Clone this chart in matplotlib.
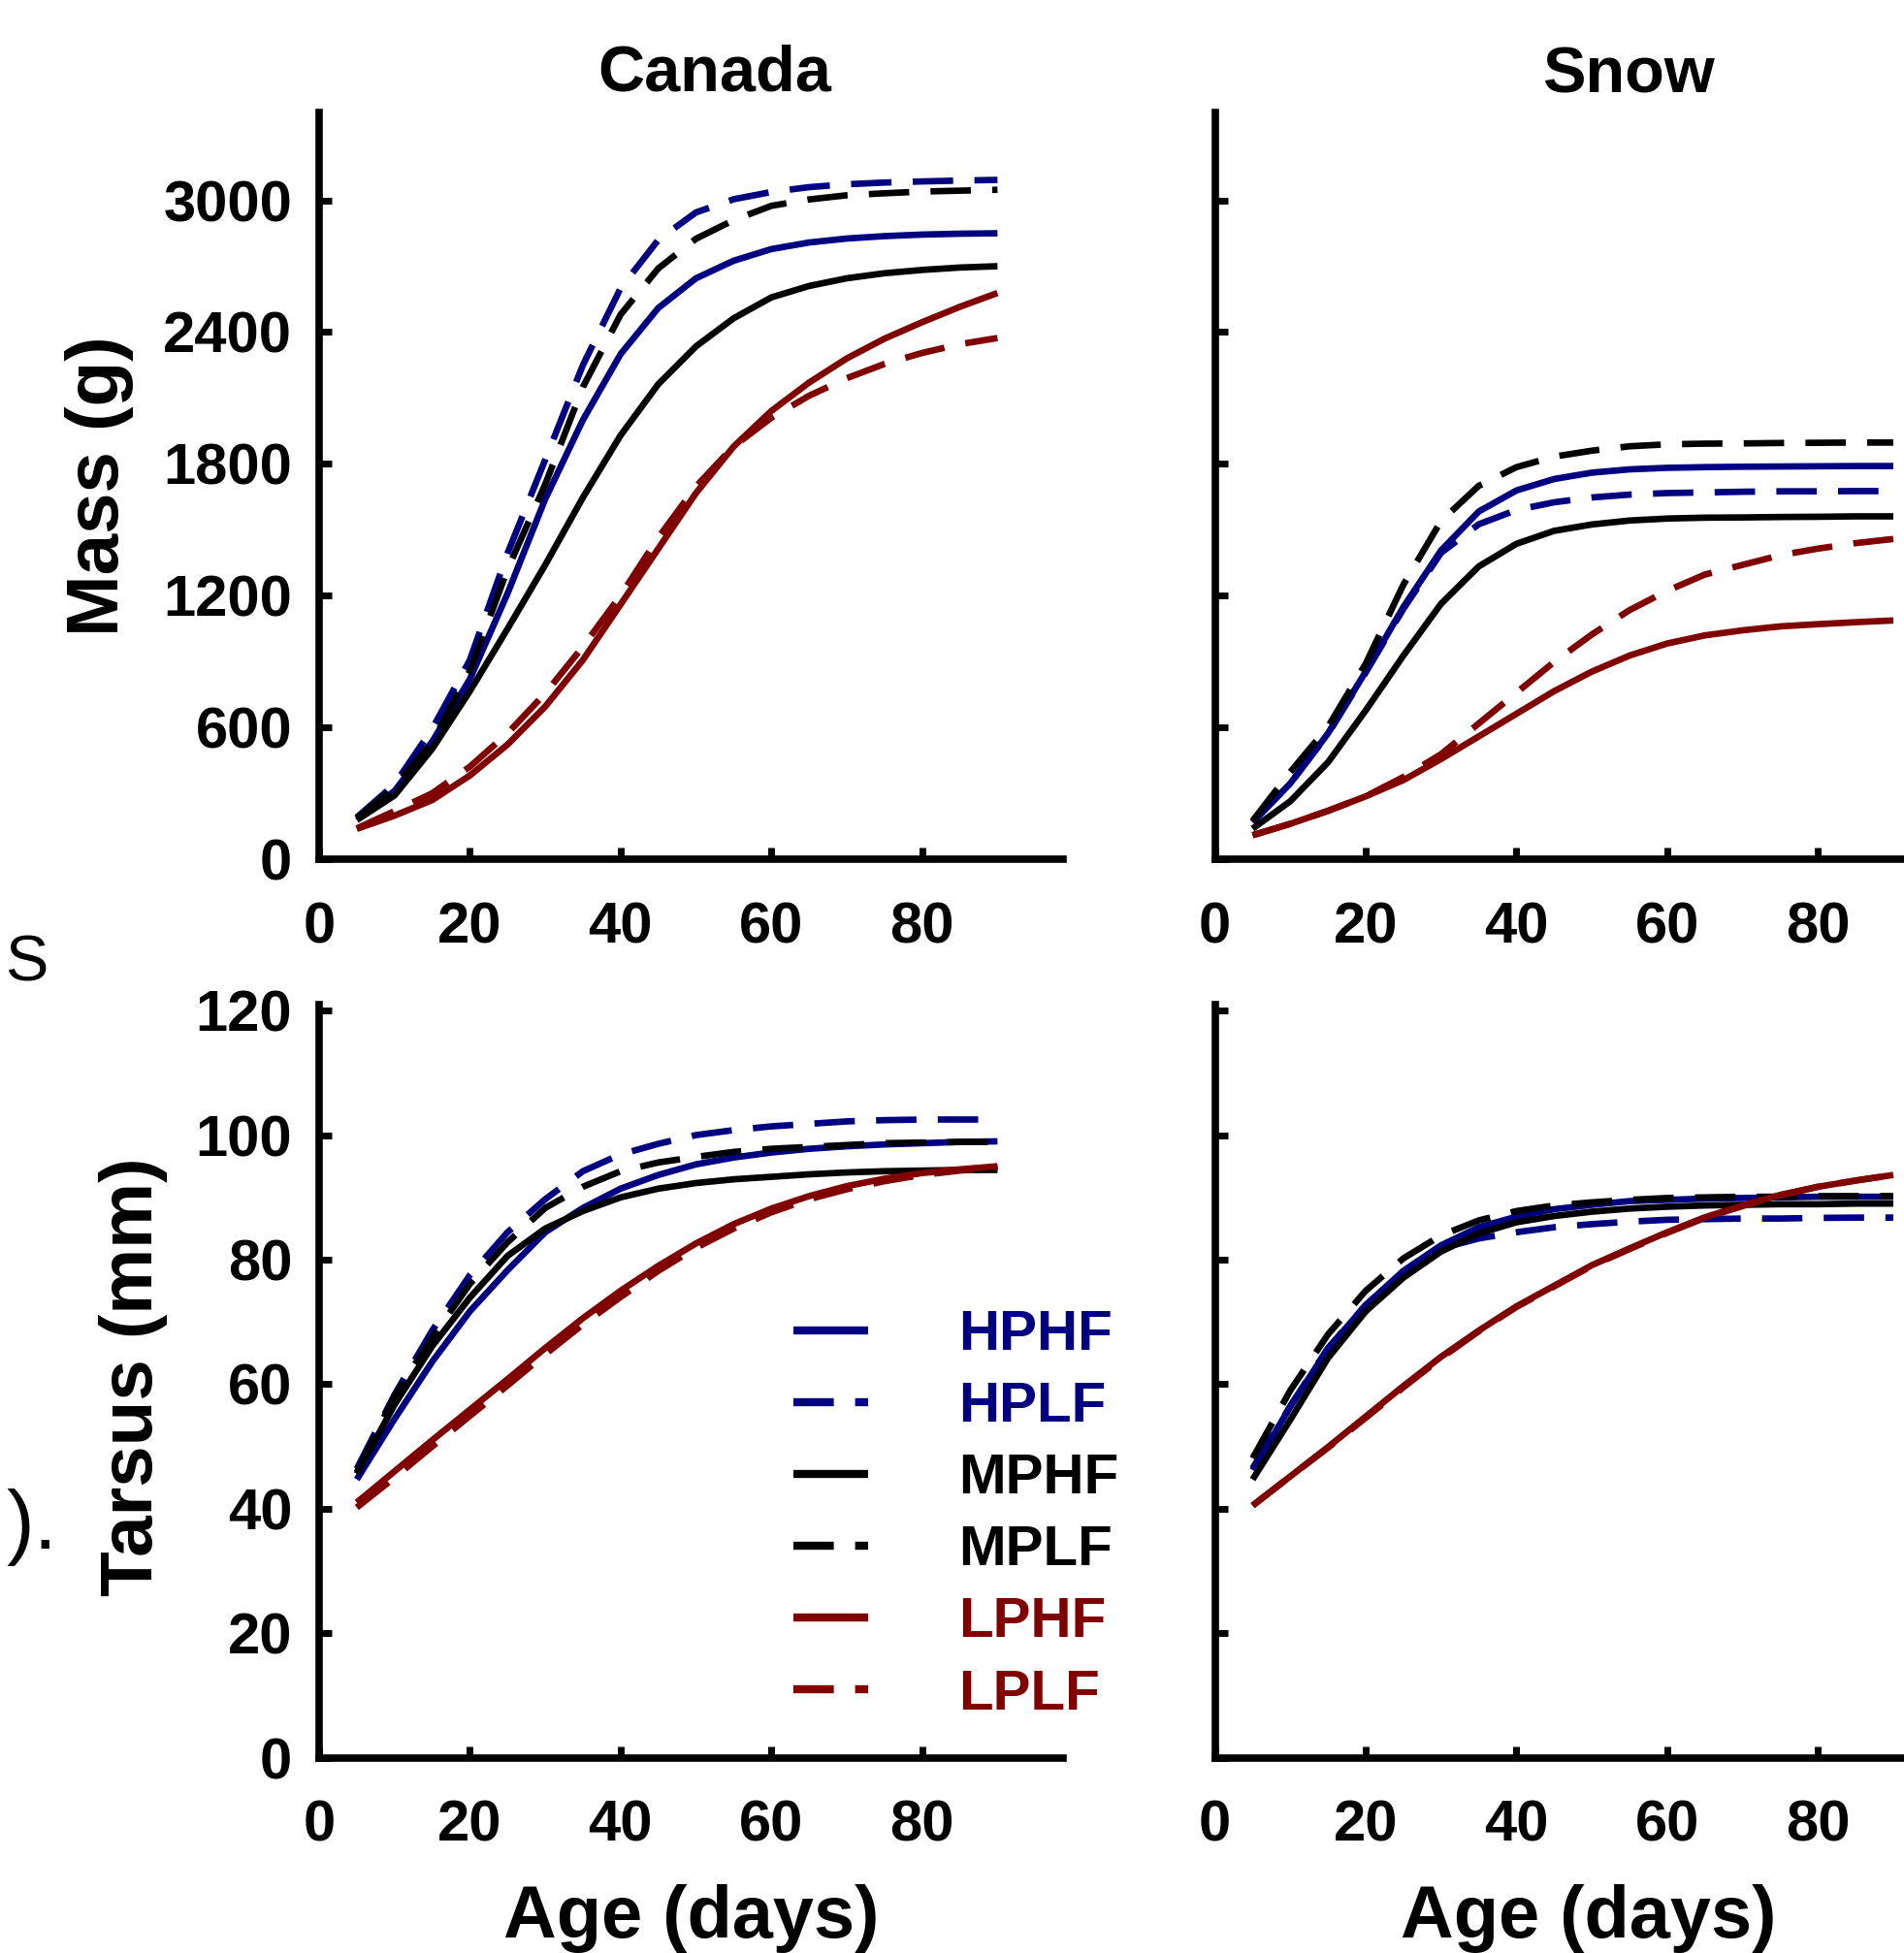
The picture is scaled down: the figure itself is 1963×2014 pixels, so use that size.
"""Growth curves (mass and tarsus) for Canada and Snow geese under six treatments."""

import matplotlib
matplotlib.use("Agg")
import matplotlib.pyplot as plt

plt.rcParams["font.family"] = ["Liberation Sans", "DejaVu Sans"]
plt.rcParams["font.weight"] = "bold"

# --- data (age in days) ---
days = [5, 10, 15, 20, 25, 30, 35, 40, 45, 50, 55, 60, 65, 70, 75, 80, 85, 90]

# Canada, mass (g)
canada_mass_hphf = [188, 310, 535, 820, 1210, 1640, 2000, 2300, 2510, 2645, 2725, 2778, 2808, 2826, 2837, 2844, 2848, 2850]
canada_mass_hplf = [190, 340, 593, 907, 1393, 1819, 2250, 2600, 2820, 2945, 3005, 3038, 3060, 3073, 3081, 3086, 3090, 3093]
canada_mass_mphf = [178, 290, 502, 765, 1049, 1340, 1647, 1930, 2163, 2335, 2463, 2558, 2610, 2645, 2668, 2683, 2694, 2700]
canada_mass_mplf = [186, 330, 533, 857, 1320, 1707, 2150, 2480, 2690, 2825, 2910, 2975, 3004, 3023, 3032, 3040, 3044, 3048]
canada_mass_lphf = [138, 198, 269, 381, 522, 695, 907, 1160, 1414, 1667, 1879, 2041, 2170, 2280, 2370, 2445, 2515, 2578]
canada_mass_lplf = [140, 219, 300, 421, 573, 755, 968, 1201, 1464, 1697, 1880, 2010, 2110, 2190, 2255, 2305, 2345, 2373]

# Snow, mass (g)
snow_mass_hphf = [168, 345, 573, 854, 1148, 1406, 1583, 1679, 1731, 1760, 1775, 1782, 1785, 1787, 1788, 1789, 1790, 1790]
snow_mass_hplf = [168, 345, 570, 850, 1140, 1395, 1525, 1590, 1625, 1647, 1660, 1667, 1670, 1673, 1675, 1675, 1676, 1676]
snow_mass_mphf = [139, 264, 441, 677, 927, 1163, 1333, 1436, 1495, 1524, 1542, 1551, 1555, 1556, 1558, 1559, 1561, 1561]
snow_mass_mplf = [175, 397, 603, 890, 1250, 1540, 1700, 1785, 1833, 1860, 1880, 1889, 1892, 1893, 1895, 1896, 1897, 1897]
snow_mass_lphf = [109, 161, 220, 286, 360, 456, 559, 662, 765, 854, 927, 982, 1019, 1042, 1060, 1070, 1079, 1087]
snow_mass_lplf = [109, 161, 220, 286, 374, 478, 618, 758, 898, 1023, 1134, 1222, 1296, 1340, 1384, 1414, 1439, 1458]

# Canada, tarsus (mm)
canada_tars_hphf = [44.7, 54.4, 63.6, 71.7, 78.3, 84.4, 88.3, 91.4, 93.6, 95.3, 96.4, 97.2, 97.8, 98.2, 98.5, 98.7, 98.9, 99.0]
canada_tars_hplf = [46.4, 58.3, 68.6, 77.5, 84.4, 89.7, 94.2, 96.9, 98.6, 100.0, 100.8, 101.4, 101.8, 102.2, 102.4, 102.5, 102.5, 102.5]
canada_tars_mphf = [45.6, 56.7, 66.1, 73.9, 80.6, 85.0, 87.8, 90.0, 91.4, 92.3, 92.9, 93.3, 93.7, 94.0, 94.2, 94.3, 94.4, 94.4]
canada_tars_mplf = [45.8, 58.1, 67.5, 76.1, 82.8, 88.3, 91.7, 94.2, 95.6, 96.5, 97.3, 97.8, 98.1, 98.4, 98.7, 98.8, 98.9, 98.9]
canada_tars_lphf = [41.0, 46.0, 51.0, 55.9, 60.8, 65.8, 70.6, 75.0, 79.0, 82.6, 85.7, 88.2, 90.2, 91.8, 93.0, 93.9, 94.5, 95.0]
canada_tars_lplf = [40.2, 45.0, 50.0, 54.9, 59.8, 64.8, 69.6, 74.0, 78.2, 81.9, 85.0, 87.6, 89.7, 91.3, 92.6, 93.6, 94.3, 94.8]

# Snow, tarsus (mm)
snow_tars_hphf = [46.2, 56.4, 65.7, 72.7, 78.2, 82.3, 85.2, 86.9, 88.1, 88.8, 89.4, 89.6, 89.8, 89.9, 90.0, 90.1, 90.1, 90.1]
snow_tars_hplf = [46.5, 56.5, 65.8, 72.7, 78.0, 81.8, 83.4, 84.4, 85.2, 85.7, 86.1, 86.4, 86.5, 86.6, 86.6, 86.7, 86.75, 86.75]
snow_tars_mphf = [44.7, 54.3, 64.2, 71.7, 77.1, 81.3, 84.2, 86.0, 87.0, 87.7, 88.2, 88.5, 88.7, 88.8, 88.9, 88.9, 89.0, 89.0]
snow_tars_mplf = [48.1, 59.0, 68.0, 75.0, 80.2, 83.9, 86.3, 87.8, 88.7, 89.2, 89.6, 89.9, 90.0, 90.1, 90.1, 90.2, 90.2, 90.2]
snow_tars_lphf = [40.5, 45.2, 49.9, 54.8, 59.7, 64.4, 68.6, 72.5, 75.8, 79.1, 81.8, 84.4, 86.8, 88.7, 90.4, 91.7, 92.7, 93.6]
snow_tars_lplf = [40.5, 45.2, 49.8, 54.6, 59.5, 64.2, 68.5, 72.4, 75.7, 79.0, 81.7, 84.3, 86.7, 88.6, 90.3, 91.7, 92.7, 93.6]

treatments = ["HPHF", "HPLF", "MPHF", "MPLF", "LPHF", "LPLF"]
mass_ticks = [0, 600, 1200, 1800, 2400, 3000]
tars_ticks = [0, 20, 40, 60, 80, 100, 120]
age_ticks = [0, 20, 40, 60, 80]

# --- styling ---
NAVY, MAROON, BLACK = "#000080", "#800000", "black"
colors = [NAVY, NAVY, BLACK, BLACK, MAROON, MAROON]
styles = ["solid", "dash", "solid", "dash", "solid", "dash"]
LW = 4.8
LEG_LW = 6.0
DASH_ON, DASH_OFF = 30.0, 15.8   # points
TICK_FS = 43

W, H = 1963, 2014
fig = plt.figure(figsize=(W / 100, H / 100), dpi=100)


def add_ax(x0, y_bottom, w, h):
    # pixel box -> figure fraction
    return fig.add_axes([x0 / W, 1 - y_bottom / H, w / W, h / H])


def style_ax(ax, ylim, yticks, ylabels):
    ax.set_xlim(0, 98.7)
    ax.set_ylim(*ylim)
    ax.set_xticks(age_ticks)
    ax.set_yticks(yticks)
    if not ylabels:
        ax.set_yticklabels([])
    for s in ("top", "right"):
        ax.spines[s].set_visible(False)
    for s in ("left", "bottom"):
        ax.spines[s].set_linewidth(5.5)
    ax.tick_params(direction="in", length=9, width=5, labelsize=TICK_FS)
    ax.tick_params(axis="y", pad=20)
    ax.tick_params(axis="x", pad=31)
    ax.patch.set_alpha(0)


def draw(ax, series):
    # draw order so that black dashes sit on blue, red solid on red dashed
    order = [0, 1, 2, 3, 5, 4]
    handles = {}
    for i in order:
        kw = dict(color=colors[i], lw=LW, solid_capstyle="butt", dash_capstyle="butt")
        if styles[i] == "dash":
            kw["dashes"] = (DASH_ON / LW, DASH_OFF / LW)
        (ln,) = ax.plot(days, series[i], **kw)
        handles[i] = ln
    return [handles[i] for i in range(6)]


ax_tl = add_ax(329, 886, 767, 770)
ax_tr = add_ax(1252.6, 886, 767, 770)
ax_bl = add_ax(329, 1812.7, 767, 777)
ax_br = add_ax(1252.6, 1812.7, 767, 777)

draw(ax_tl, [canada_mass_hphf, canada_mass_hplf, canada_mass_mphf,
             canada_mass_mplf, canada_mass_lphf, canada_mass_lplf])
draw(ax_tr, [snow_mass_hphf, snow_mass_hplf, snow_mass_mphf,
             snow_mass_mplf, snow_mass_lphf, snow_mass_lplf])
hands = draw(ax_bl, [canada_tars_hphf, canada_tars_hplf, canada_tars_mphf,
                     canada_tars_mplf, canada_tars_lphf, canada_tars_lplf])
draw(ax_br, [snow_tars_hphf, snow_tars_hplf, snow_tars_mphf,
             snow_tars_mplf, snow_tars_lphf, snow_tars_lplf])

style_ax(ax_tl, (0, 3400), mass_ticks, True)
style_ax(ax_tr, (0, 3400), mass_ticks, False)
style_ax(ax_bl, (0, 121), tars_ticks, True)
style_ax(ax_br, (0, 121), tars_ticks, False)

leg = ax_bl.legend(hands, treatments, loc="upper left",
                   bbox_to_anchor=(818 / W, 1 - 1350 / H), bbox_transform=fig.transFigure,
                   frameon=False, fontsize=42, handlelength=1.32, handletextpad=1.6,
                   labelspacing=0.345, borderpad=0, borderaxespad=0, labelcolor="linecolor")
for h, st in zip(leg.legend_handles, styles):
    h.set_linewidth(LEG_LW)
    if st == "dash":
        h.set_dashes((DASH_ON / LEG_LW, DASH_OFF / LEG_LW))

# titles and axis labels
fig.text(737 / W, 1 - 94 / H, "Canada", ha="center", va="baseline", fontsize=48)
fig.text(1679 / W, 1 - 96 / H, "Snow", ha="center", va="baseline", fontsize=48)
fig.text(102.8 / W, 0.751, "Mass (g)", rotation=90, ha="center", va="center", fontsize=55)
fig.text(137.5 / W, 0.2951, "Tarsus (mm)", rotation=90, ha="center", va="center", fontsize=55)
fig.text(713 / W, 0.008, "Age (days)", ha="center", va="baseline", fontsize=54.5)
fig.text(1638 / W, 0.008, "Age (days)", ha="center", va="baseline", fontsize=54.5)

# fragments of surrounding page text cut by the crop
fig.text(0.0025, 0.506, "S", ha="left", va="center", fontsize=48, fontweight="normal")
fig.text(0.0035, 0.218, ").", ha="left", va="center", fontsize=62, fontweight="normal")

fig.savefig("out.png", dpi=100)
